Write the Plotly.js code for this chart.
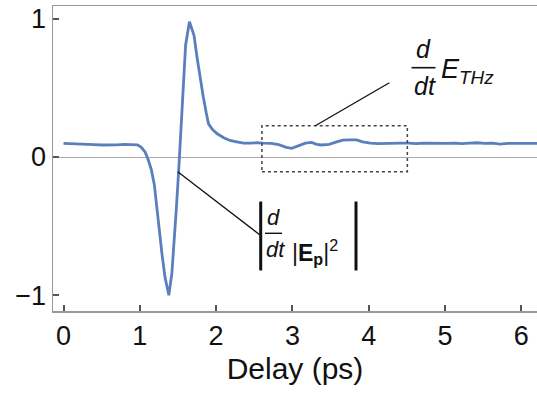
<!DOCTYPE html>
<html>
<head>
<meta charset="utf-8">
<script src="https://cdn.plot.ly/plotly-3.0.1.min.js"></script>
<style>html,body{margin:0;padding:0;background:#fff;}#chart{width:537px;height:398px;}</style>
</head>
<body>
<div id="chart"></div>
<script>
// Data
const delay = [0.00,0.10,0.20,0.30,0.40,0.50,0.60,0.70,0.80,0.90,0.97,1.02,1.07,1.11,1.15,1.19,1.24,1.29,1.33,1.38,1.42,1.45,1.48,1.51,1.53,1.56,1.60,1.65,1.71,1.75,1.79,1.83,1.87,1.90,1.95,2.01,2.10,2.18,2.27,2.36,2.45,2.53,2.62,2.72,2.82,2.92,2.99,3.07,3.17,3.25,3.32,3.38,3.48,3.58,3.66,3.74,3.84,3.92,4.02,4.12,4.22,4.32,4.42,4.52,4.62,4.72,4.82,4.92,5.02,5.12,5.22,5.32,5.42,5.52,5.62,5.72,5.82,5.92,6.02,6.12,6.22];
const signal = [0.098,0.097,0.095,0.093,0.090,0.087,0.086,0.088,0.091,0.092,0.088,0.070,0.035,-0.020,-0.090,-0.200,-0.470,-0.700,-0.870,-1.000,-0.840,-0.620,-0.360,-0.090,0.100,0.450,0.810,0.978,0.880,0.720,0.560,0.440,0.320,0.240,0.200,0.170,0.140,0.120,0.110,0.100,0.100,0.103,0.100,0.098,0.090,0.070,0.063,0.080,0.100,0.106,0.092,0.087,0.092,0.110,0.122,0.124,0.124,0.110,0.100,0.097,0.100,0.098,0.101,0.100,0.097,0.100,0.099,0.096,0.098,0.100,0.097,0.100,0.103,0.098,0.100,0.093,0.099,0.098,0.100,0.097,0.099];
const xTicks = [0,1,2,3,4,5,6];
const yTicks = [-1,0,1];
const yTickLabels = ['\u22121','0','1'];

// pixel -> paper helpers (plot area: x 53..537, y 6..311)
const L=53, R=537, T=6, B=311;
const px = v => (v-L)/(R-L);
const py = v => (B-v)/(B-T);

const font = 'Liberation Sans, Arial, sans-serif';

const shapes = [
  {type:'rect', xref:'x', yref:'y', x0:2.60, x1:4.506, y0:-0.106, y1:0.226,
   line:{color:'#444', width:1.5, dash:'dot'}},
  {type:'line', xref:'x', yref:'y', x0:3.30, y0:0.226, x1:4.27, y1:0.537, line:{color:'#111', width:1.3}},
  {type:'line', xref:'x', yref:'y', x0:1.497, y0:-0.106, x1:2.575, y1:-0.564, line:{color:'#111', width:1.3}},
  // fraction bar (label 1)
  {type:'line', xref:'paper', yref:'paper', x0:px(411.5), x1:px(435.5), y0:py(67.7), y1:py(67.7), line:{color:'#111', width:1.6}},
  // abs bars (label 2)
  {type:'line', xref:'paper', yref:'paper', x0:px(260.7), x1:px(260.7), y0:py(201.5), y1:py(270.5), line:{color:'#111', width:3}},
  {type:'line', xref:'paper', yref:'paper', x0:px(356), x1:px(356), y0:py(201.5), y1:py(270.5), line:{color:'#111', width:3}},
  {type:'line', xref:'paper', yref:'paper', x0:px(265), x1:px(282), y0:py(233.3), y1:py(233.3), line:{color:'#111', width:1.4}}
];

const ann = (x,y,text,size,xanchor) => ({xref:'paper', yref:'paper', x:px(x), y:py(y), text:text,
  showarrow:false, xanchor:xanchor||'center', yanchor:'middle', font:{family:font, size:size, color:'#111'}});

const annotations = [
  ann(423.5, 49, '<i>d</i>', 25),
  ann(425, 86, '<i>dt</i>', 25),
  ann(439, 71, '<i>E<sub>THz</sub></i>', 27, 'left'),
  ann(273.5, 217, '<i>d</i>', 22),
  ann(275.5, 249, '<i>dt</i>', 22),
  ann(290, 252, '|<b>E<sub>p</sub></b>|<sup>2</sup>', 23, 'left')
];

const trace = {x:delay, y:signal, type:'scatter', mode:'lines',
  line:{color:'#5b7fbd', width:2.8}, hoverinfo:'skip'};

const layout = {
  width:537, height:398,
  margin:{l:L, r:537-R, t:T, b:398-B},
  paper_bgcolor:'#fff', plot_bgcolor:'#fff',
  showlegend:false,
  font:{family:font, color:'#111'},
  xaxis:{range:[-0.138,6.205], tickvals:xTicks, ticktext:xTicks.map(String),
    ticks:'inside', ticklen:6, tickwidth:2, tickcolor:'#555',
    showline:true, linecolor:'#999', linewidth:1.5, mirror:true,
    showgrid:false, zeroline:false, tickfont:{family:font, size:27, color:'#111'},
    title:{text:'Delay (ps)', font:{family:font, size:30, color:'#111'}, standoff:8}},
  yaxis:{range:[-1.1135,1.092], tickvals:yTicks, ticktext:yTickLabels,
    ticks:'inside', ticklen:6, tickwidth:2, tickcolor:'#555',
    showline:true, linecolor:'#999', linewidth:1.5, mirror:false,
    showgrid:false, zeroline:true, zerolinecolor:'#aaa', zerolinewidth:1,
    tickfont:{family:font, size:27, color:'#111'}},
  shapes:shapes, annotations:annotations
};

Plotly.newPlot('chart', [trace], layout, {staticPlot:true, displayModeBar:false});
</script>
</body>
</html>
